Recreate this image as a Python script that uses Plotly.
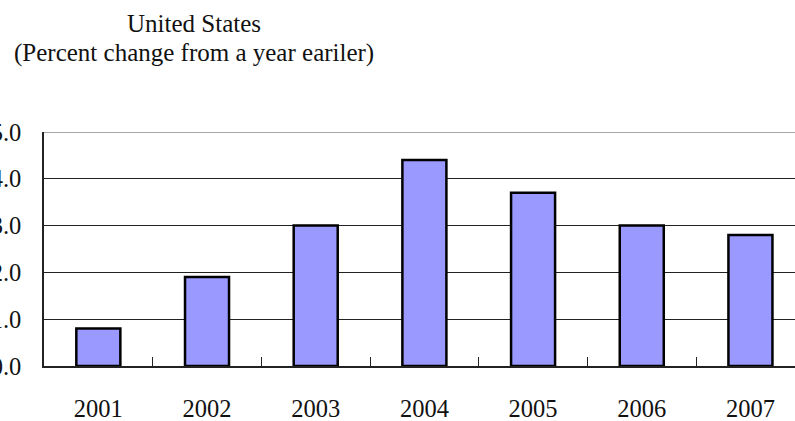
import plotly.graph_objects as go

years = ["2001", "2002", "2003", "2004", "2005", "2006", "2007"]
values = [0.8, 1.9, 3.0, 4.4, 3.7, 3.0, 2.8]
y_ticks = [0, 1, 2, 3, 4, 5]
title_lines = ["United States", "(Percent change from a year eariler)"]

FONT = "Liberation Serif"
TOP, PLOT_H = 132, 234

fig = go.Figure()
fig.add_trace(go.Bar(
    x=years, y=values, width=0.405,
    marker=dict(color="#9999FF", line=dict(color="#000000", width=2.5)),
))

fig.update_layout(
    width=795, height=421,
    margin=dict(l=44, r=0, t=TOP, b=55, autoexpand=False),
    paper_bgcolor="white", plot_bgcolor="white",
    showlegend=False,
    font=dict(family=FONT, size=25, color="#111111"),
)

for line, py in zip(title_lines, [24, 53]):
    fig.add_annotation(
        text=line, xref="paper", yref="paper",
        x=(194 - 44) / 751, y=1 + (TOP - py) / PLOT_H,
        xanchor="center", yanchor="middle", showarrow=False,
        font=dict(family=FONT, size=25, color="#111111"),
    )

fig.update_xaxes(
    type="category",
    range=[-0.5, 6.41],
    showgrid=False,
    showline=True, linecolor="#222222", linewidth=1.5,
    ticks="inside", tickson="boundaries", ticklen=9, tickcolor="#222222", tickwidth=1,
    ticklabelstandoff=20,
    tickfont=dict(family=FONT, size=24.5, color="#111111"),
    automargin=False,
)

fig.update_yaxes(
    range=[0, 5],
    tickvals=y_ticks,
    ticktext=[f"{v:.1f}" for v in y_ticks],
    showgrid=True, gridcolor="#222222", gridwidth=1,
    zeroline=False,
    showline=True, linecolor="#222222", linewidth=1.5,
    ticks="", ticklabelstandoff=16,
    tickfont=dict(family=FONT, size=24.5, color="#111111"),
    automargin=False,
)

fig.add_shape(type="line", xref="paper", yref="y", x0=0, x1=1, y0=5, y1=5,
              line=dict(color="#888888", width=1.5), layer="above")

fig.write_html("out.html")
